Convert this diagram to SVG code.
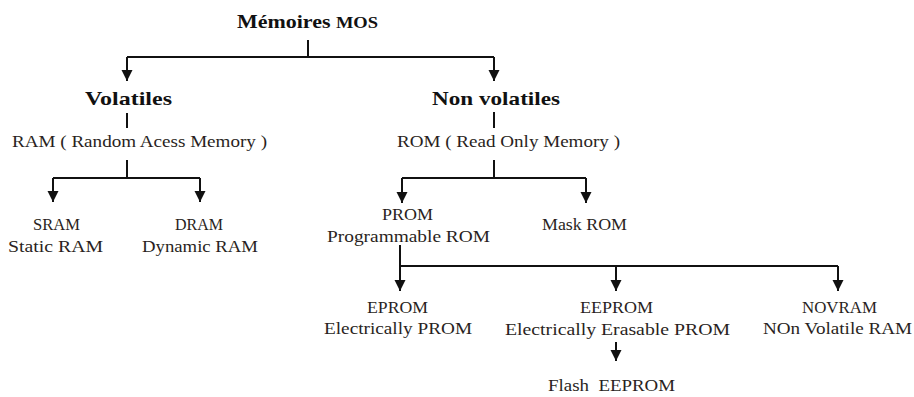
<svg xmlns="http://www.w3.org/2000/svg" width="914" height="397" viewBox="0 0 914 397">
<style>
.t{font-family:'Liberation Serif','DejaVu Serif',serif;font-size:16px;fill:#2a1f22;text-anchor:middle}
.b{font-family:'Liberation Serif','DejaVu Serif',serif;font-size:19px;font-weight:bold;fill:#111;text-anchor:middle}
.c{fill:none;stroke:#111;stroke-width:2}
</style>
<defs>
<marker id="ah" markerUnits="userSpaceOnUse" markerWidth="12" markerHeight="12" viewBox="0 0 12 12" refX="11" refY="6" orient="auto">
<path d="M0,0.5 L11,6 L0,11.5 Z" fill="#111"/>
</marker>
</defs>
<rect width="914" height="397" fill="#fff"/>
<g id="connectors">
<path class="c" d="M308,40 V57 M127,57 H494"/>
<path class="c" d="M127,57 V81" marker-end="url(#ah)"/>
<path class="c" d="M494,57 V81" marker-end="url(#ah)"/>
<path class="c" d="M127,113 V128 M127,160 V178 M53,178 H200"/>
<path class="c" d="M53,178 V202" marker-end="url(#ah)"/>
<path class="c" d="M200,178 V202" marker-end="url(#ah)"/>
<path class="c" d="M494,112 V128 M494,160 V178 M402,178 H586"/>
<path class="c" d="M402,178 V203" marker-end="url(#ah)"/>
<path class="c" d="M586,178 V203" marker-end="url(#ah)"/>
<path class="c" d="M400,266 H838"/>
<path class="c" d="M400,245 V291" marker-end="url(#ah)"/>
<path class="c" d="M616,266 V291" marker-end="url(#ah)"/>
<path class="c" d="M838,266 V291" marker-end="url(#ah)"/>
<path class="c" d="M616,342 V361" marker-end="url(#ah)"/>
</g>
<g id="memoires-mos"><text class="b" x="307.5" y="28" textLength="141" lengthAdjust="spacingAndGlyphs">Mémoires <tspan font-size="16">MOS</tspan></text></g>
<g id="volatiles"><text class="b" x="128.5" y="105" textLength="87" lengthAdjust="spacingAndGlyphs">Volatiles</text></g>
<g id="non-volatiles"><text class="b" x="496" y="105" textLength="128" lengthAdjust="spacingAndGlyphs">Non volatiles</text></g>
<g id="ram"><text class="t" x="139.5" y="147" textLength="255" lengthAdjust="spacingAndGlyphs">RAM ( Random Acess Memory )</text></g>
<g id="rom"><text class="t" x="508.5" y="147" textLength="223" lengthAdjust="spacingAndGlyphs">ROM ( Read Only Memory )</text></g>
<g id="sram">
<text class="t" x="56.5" y="230" textLength="47" lengthAdjust="spacingAndGlyphs">SRAM</text>
<text class="t" x="55.5" y="252" textLength="95" lengthAdjust="spacingAndGlyphs">Static RAM</text>
</g>
<g id="dram">
<text class="t" x="199" y="230" textLength="48" lengthAdjust="spacingAndGlyphs">DRAM</text>
<text class="t" x="200" y="252" textLength="116" lengthAdjust="spacingAndGlyphs">Dynamic RAM</text>
</g>
<g id="prom">
<text class="t" x="407.5" y="220" textLength="51" lengthAdjust="spacingAndGlyphs">PROM</text>
<text class="t" x="408.5" y="242" textLength="163" lengthAdjust="spacingAndGlyphs">Programmable ROM</text>
</g>
<g id="mask-rom"><text class="t" x="584.5" y="230" textLength="85" lengthAdjust="spacingAndGlyphs">Mask ROM</text></g>
<g id="eprom">
<text class="t" x="397.5" y="313" textLength="61" lengthAdjust="spacingAndGlyphs">EPROM</text>
<text class="t" x="398" y="334" textLength="148" lengthAdjust="spacingAndGlyphs">Electrically PROM</text>
</g>
<g id="eeprom">
<text class="t" x="616.5" y="313" textLength="73" lengthAdjust="spacingAndGlyphs">EEPROM</text>
<text class="t" x="617.5" y="335" textLength="225" lengthAdjust="spacingAndGlyphs">Electrically Erasable PROM</text>
</g>
<g id="novram">
<text class="t" x="839.5" y="313" textLength="75" lengthAdjust="spacingAndGlyphs">NOVRAM</text>
<text class="t" x="837.5" y="334" textLength="149" lengthAdjust="spacingAndGlyphs">NOn Volatile RAM</text>
</g>
<g id="flash-eeprom"><text class="t" x="611.5" y="391" textLength="127" lengthAdjust="spacingAndGlyphs" xml:space="preserve">Flash  EEPROM</text></g>
</svg>
